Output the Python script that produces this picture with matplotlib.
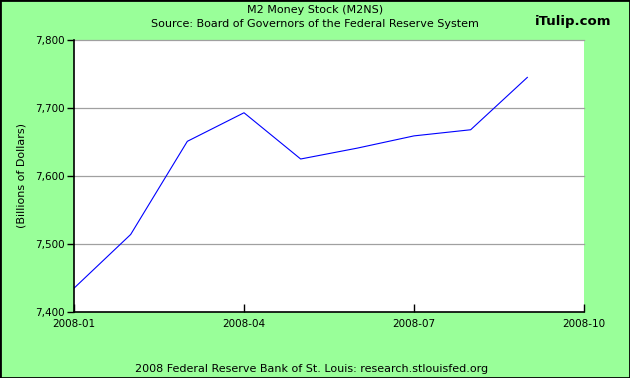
import matplotlib
matplotlib.use('Agg')
import matplotlib.pyplot as plt
from matplotlib.patches import Rectangle

# M2 money stock, monthly 2008 (billions of dollars)
months = ['2008-01', '2008-02', '2008-03', '2008-04', '2008-05',
          '2008-06', '2008-07', '2008-08', '2008-09']
m2 = [7435, 7514, 7651, 7693, 7625, 7641, 7659, 7668, 7745]
tick_labels = ['2008-01', '2008-04', '2008-07', '2008-10']
y_ticks = [7400, 7500, 7600, 7700, 7800]

bg = '#99ff99'
fig = plt.figure(figsize=(6.3, 3.78), dpi=100, facecolor=bg)
ax = fig.add_axes([74/630, 66/378, 510/630, 272/378])
ax.set_facecolor('white')

x = list(range(len(months)))
ax.plot(x, m2, color='#0000ff', lw=0.8)

ax.set_xlim(0, 9)
ax.set_ylim(7400, 7800)
ax.set_xticks([0, 3, 6, 9])
ax.set_xticklabels(tick_labels)
ax.set_yticks(y_ticks)
ax.set_yticklabels([f'{v:,}' for v in y_ticks])
for v in y_ticks[1:]:
    ax.axhline(v, color='#a0a0a0', lw=0.9, zorder=0, clip_on=False)

for s in ['top', 'right']:
    ax.spines[s].set_visible(False)
for s in ['left', 'bottom']:
    ax.spines[s].set_color('black')
    ax.spines[s].set_linewidth(1.2)
ax.tick_params(axis='y', direction='out', length=5, width=1, labelsize=7.5, pad=2)
ax.tick_params(axis='x', direction='in', length=6, width=1, labelsize=7.5, pad=5)

fig.text(22/630, 1 - 175/378, '(Billions of Dollars)', rotation=90,
         ha='center', va='center', fontsize=8)
fig.text(0.5, 1 - 10/378, 'M2 Money Stock (M2NS)', ha='center', va='center', fontsize=8)
fig.text(0.5, 1 - 24/378, 'Source: Board of Governors of the Federal Reserve System',
         ha='center', va='center', fontsize=8)
fig.text(573/630, 1 - 21/378, 'iTulip.com', ha='center', va='center', fontsize=9.5,
         fontweight='bold')
fig.text(312/630, 1 - 369/378, '2008 Federal Reserve Bank of St. Louis: research.stlouisfed.org',
         ha='center', va='center', fontsize=8)

fig.patches.append(Rectangle((0, 0), 1, 1, transform=fig.transFigure, fill=False,
                             edgecolor='black', lw=2))

fig.savefig('out.png', dpi=100, facecolor=bg)
